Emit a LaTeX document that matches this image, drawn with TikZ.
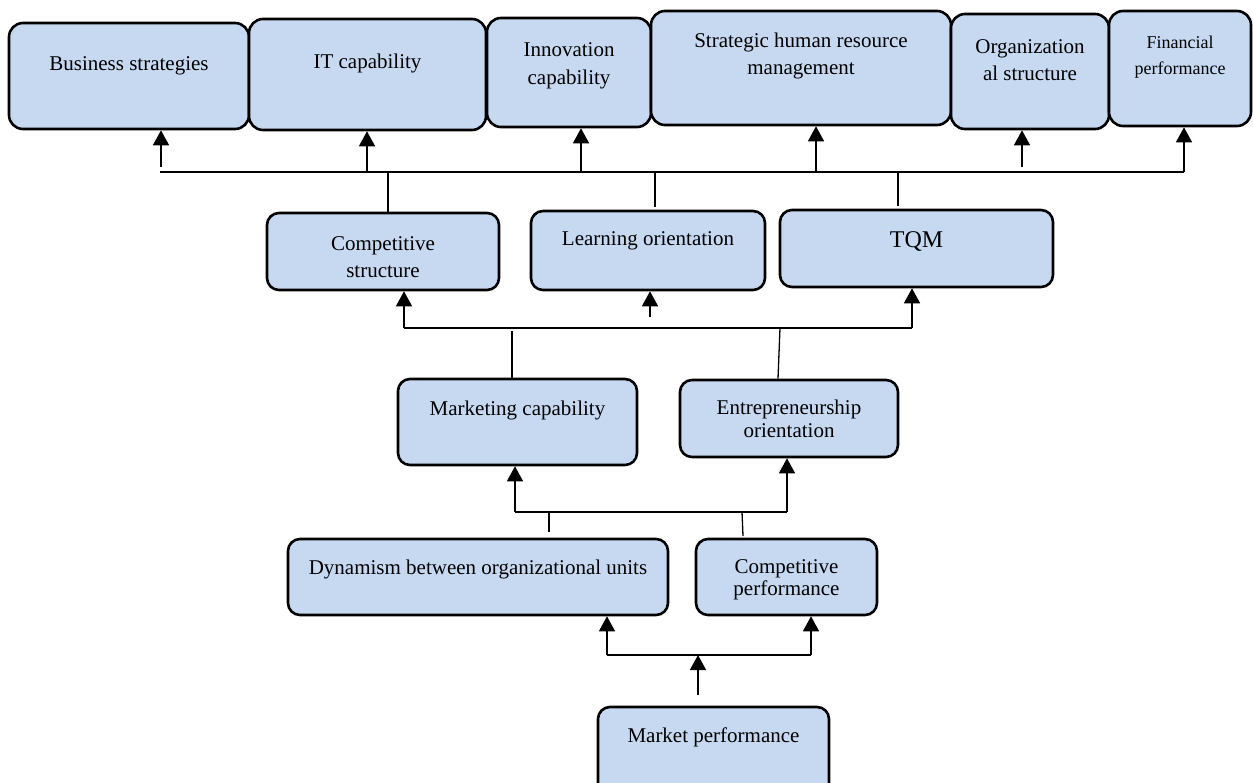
\documentclass[tikz,border=0pt]{standalone}
\usepackage{fontspec}
\setmainfont{Liberation Serif}
\usetikzlibrary{arrows.meta}
\definecolor{boxblue}{HTML}{C6D9F1}
\tikzstyle{blk} = [draw=black, line width=2.6pt, fill=boxblue, rounded corners=14pt, inner sep=0pt]
\tikzstyle{txt} = [font=\fontsize{21}{22.5}\selectfont, align=center, anchor=center, inner sep=0pt]

\begin{document}
\begin{tikzpicture}[x=1pt,y=-1pt,
			arr/.style = {line width=1.5pt,-{Triangle[width=16pt,length=15pt]}},
			bus/.style = {line width=1.3pt}]
			\useasboundingbox (0,0) rectangle (1253,782);
			% top row
			\node (bs) [blk,minimum width=240,minimum height=106,label={[txt,yshift=-44pt]north:Business strategies}] at (129,76) {};
			\node (itc) [blk,minimum width=237,minimum height=111,label={[txt,yshift=-45.5pt]north:IT capability}] at (367.5,74.5) {};
			\node (inn) [blk,minimum width=164,minimum height=109,label={[txt,yshift=-49pt]north:{Innovation\\[5pt]capability}}] at (569,72.5) {};
			\node (shrm) [blk,minimum width=300,minimum height=114,label={[txt,yshift=-46.5pt]north:{Strategic human resource\\[4pt]management}}] at (801,68) {};
			\node (org) [blk,minimum width=158,minimum height=115,label={[txt,yshift=-47.5pt]north:{Organization\\[5pt]al structure}}] at (1030,71.5) {};
			\node (fin) [blk,minimum width=142,minimum height=115,label={[txt,font=\fontsize{18}{26.5}\selectfont,yshift=-47.5pt]north:{Financial\\performance}}] at (1180,68.5) {};
			% second row
			\node (cst) [blk,rounded corners=12pt,minimum width=232,minimum height=77,label={[txt,yshift=-45.5pt]north:{Competitive\\[5pt]structure}}] at (383,251.5) {};
			\node (lor) [blk,rounded corners=12pt,minimum width=234,minimum height=79,label={[txt,yshift=-31pt]north:Learning orientation}] at (648,250.5) {};
			\node (tqm) [blk,rounded corners=12pt,minimum width=273,minimum height=77,label={[txt,font=\fontsize{24}{26}\selectfont,yshift=-33pt]north:TQM}] at (916.5,248.5) {};
			% third row
			\node (mkt) [blk,rounded corners=12pt,minimum width=239,minimum height=86,label={[txt,yshift=-33pt]north:Marketing capability}] at (517.5,422) {};
			\node (ent) [blk,rounded corners=12pt,minimum width=218,minimum height=77,label={[txt,yshift=-40pt]north:{Entrepreneurship\\orientation}}] at (789,418.5) {};
			% fourth row
			\node (dyn) [blk,rounded corners=12pt,minimum width=380,minimum height=76,label={[txt,yshift=-32pt]north:Dynamism between organizational units}] at (478,577) {};
			\node (cpf) [blk,rounded corners=12pt,minimum width=181,minimum height=76,label={[txt,yshift=-42pt]north:{Competitive\\performance}}] at (786.5,577) {};
			% bottom
			\node (mpf) [blk,rounded corners=12pt,minimum width=231,minimum height=92,label={[txt,yshift=-32pt]north:Market performance}] at (713.5,753) {};

			% top bus
			\coordinate (t0) at (160,172);
			\coordinate (t1) at (1184,172);
			\draw [bus] (t0) -- (t1);
			\draw [arr] (161,167) -- (bs.south -| 161,0);
			\draw [arr] (367,172) -- (itc.south -| 367,0);
			\draw [arr] (581,172) -- (inn.south -| 581,0);
			\draw [arr] (816,172) -- (shrm.south -| 816,0);
			\draw [arr] (1022,167) -- (org.south -| 1022,0);
			\draw [arr] (t1) -- (fin.south -| t1);
			\draw [bus] (cst.north -| 388,0) -- (388,172);
			\draw [bus] (655,207) -- (655,172);
			\draw [bus] (898,206) -- (898,172);

			% middle bus
			\coordinate (m0) at (404,328);
			\coordinate (m1) at (912,328);
			\draw [bus] (m0) -- (m1);
			\draw [arr] (m0) -- (cst.south -| m0);
			\draw [arr] (650,317) -- (lor.south -| 650,0);
			\draw [arr] (m1) -- (tqm.south -| m1);
			\draw [bus] (mkt.north -| 512,0) -- (512,331);
			\draw [bus] (ent.north -| 778,0) -- (780,328);

			% lower bus
			\coordinate (l0) at (515,512);
			\coordinate (l1) at (787,512);
			\draw [bus] (l0) -- (l1);
			\draw [arr] (l0) -- (mkt.south -| l0);
			\draw [arr] (l1) -- (ent.south -| l1);
			\draw [bus] (549,512) -- (549,532);
			\draw [bus] (742,512) -- (743,536);

			% bottom bus
			\coordinate (b0) at (607,655);
			\coordinate (b1) at (811,655);
			\coordinate (bm) at (698,655);
			\draw [bus] (b0) -- (b1);
			\draw [arr] (b0) -- (dyn.south -| b0);
			\draw [arr] (b1) -- (cpf.south -| b1);
			\draw [arr] (698,695) -- (bm);
		\end{tikzpicture}
\end{document}
